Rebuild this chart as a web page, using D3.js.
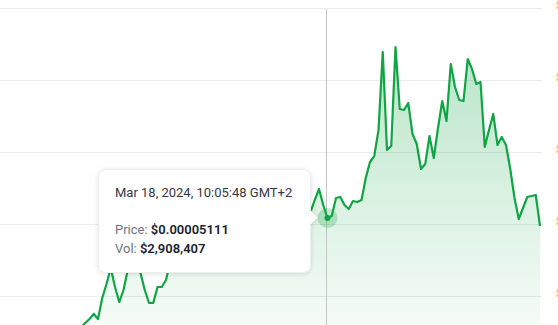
<!DOCTYPE html>
<html>
<head>
<meta charset="utf-8">
<script src="https://cdn.jsdelivr.net/npm/d3@7"></script>
<style>
  html, body { margin: 0; padding: 0; background: #fff; }
  svg { display: block; font-family: Roboto, "Noto Sans", sans-serif; }
</style>
</head>
<body>
<svg id="chart" width="558" height="325"></svg>
<script>
// price per step
const prices = [
  0.00003472, 0.00003528, 0.00003597, 0.00003653, 0.00003708, 0.00003778, 0.00003708, 0.00004000,
  0.00004194, 0.00004417, 0.00004153, 0.00003944, 0.00004111, 0.00004389, 0.00004472, 0.00004417,
  0.00004347, 0.00004111, 0.00003931, 0.00003931, 0.00004153, 0.00004153, 0.00004250, 0.00004500,
  0.00004667, 0.00004569, 0.00004750, 0.00004639, 0.00004833, 0.00004722, 0.00004917, 0.00004806,
  0.00004972, 0.00004889, 0.00005028, 0.00004944, 0.00005111, 0.00005000, 0.00005167, 0.00005083,
  0.00005250, 0.00005139, 0.00005278, 0.00005194, 0.00005361, 0.00005250, 0.00005389, 0.00005306,
  0.00005444, 0.00005333, 0.00005472, 0.00005361, 0.00005500, 0.00005389, 0.00005444, 0.00005333,
  0.00005194, 0.00005361, 0.00005514, 0.00005292, 0.00005111, 0.00005139, 0.00005389, 0.00005403,
  0.00005292, 0.00005236, 0.00005347, 0.00005333, 0.00005361, 0.00005667, 0.00005889, 0.00005972,
  0.00006333, 0.00007417, 0.00006056, 0.00006111, 0.00007486, 0.00006625, 0.00006611, 0.00006708,
  0.00006278, 0.00006139, 0.00005792, 0.00005861, 0.00006250, 0.00005944, 0.00006361, 0.00006736,
  0.00006458, 0.00007250, 0.00006931, 0.00006750, 0.00006736, 0.00007319, 0.00007181, 0.00006972,
  0.00007000, 0.00006097, 0.00006333, 0.00006556, 0.00006125, 0.00006236, 0.00006125, 0.00005792,
  0.00005389, 0.00005097, 0.00005250, 0.00005403, 0.00005417, 0.00005431, 0.00005000
];

const yTicks = [0.00004, 0.00005, 0.00006, 0.00007, 0.00008];
const yTickLabels = ['$0.00004', '$0.00005', '$0.00006', '$0.00007', '$0.00008'];

const hoverIndex = 60;
const hoverDate = 'Mar 18, 2024, 10:05:48 GMT+2';
const hoverPrice = '$0.00005111';
const hoverVol = '$2,908,407';

const green = '#10a544';

function drawChart(svg) {
  const x = d3.scaleLinear().domain([0, prices.length - 1]).range([72.5, 540]);
  const y = d3.scaleLinear().domain([0.00004, 0.00008]).range([298, 10]);

  const defs = svg.append('defs');
  const grad = defs.append('linearGradient')
    .attr('id', 'fill')
    .attr('gradientUnits', 'userSpaceOnUse')
    .attr('x1', 0).attr('x2', 0).attr('y1', 40).attr('y2', 325);
  grad.append('stop').attr('offset', 0).attr('stop-color', green).attr('stop-opacity', 0.3);
  grad.append('stop').attr('offset', 1).attr('stop-color', green).attr('stop-opacity', 0.04);

  const shadow = defs.append('filter').attr('id', 'shadow')
    .attr('x', -0.2).attr('y', -0.2).attr('width', 1.4).attr('height', 1.4);
  shadow.append('feDropShadow')
    .attr('dx', 0).attr('dy', 1).attr('stdDeviation', 2.5)
    .attr('flood-color', '#000').attr('flood-opacity', 0.12);

  // grid sits a couple of px above the tick value
  const gy = d => Math.round(y(d)) - 1.5;
  svg.append('g').selectAll('line').data(yTicks).join('line')
    .attr('x1', 0).attr('x2', 542)
    .attr('y1', gy).attr('y2', gy)
    .attr('stroke', '#ebebeb');

  // axis labels on the right, mostly cut off as in the source
  svg.append('g').selectAll('text').data(yTicks).join('text')
    .attr('x', 556).attr('y', d => gy(d))
    .attr('font-size', 11)
    .attr('fill', '#f0a53a')
    .text((d, i) => yTickLabels[i]);

  const area = d3.area()
    .x((d, i) => x(i))
    .y0(340)
    .y1(d => y(d));
  svg.append('path').datum(prices)
    .attr('d', area)
    .attr('fill', 'url(#fill)');

  // crosshair
  const hx = Math.round(x(hoverIndex)) - 0.5;
  svg.append('line')
    .attr('x1', hx).attr('x2', hx).attr('y1', 9).attr('y2', 325)
    .attr('stroke', '#c4c4c4');

  const line = d3.line()
    .x((d, i) => x(i))
    .y(d => y(d));
  svg.append('path').datum(prices)
    .attr('d', line)
    .attr('fill', 'none')
    .attr('stroke', green)
    .attr('stroke-width', 2.2)
    .attr('stroke-linejoin', 'round');

  // hover marker
  const mx = x(hoverIndex), my = y(prices[hoverIndex]);
  svg.append('circle').attr('cx', mx).attr('cy', my).attr('r', 10)
    .attr('fill', green).attr('fill-opacity', 0.25);
  svg.append('circle').attr('cx', mx).attr('cy', my).attr('r', 3)
    .attr('fill', green);

  drawTooltip(svg);
}

function drawTooltip(svg) {
  const tip = svg.append('g').attr('transform', 'translate(98.5,169.5)');
  tip.append('path')
    .attr('d', 'M8,0 H204 Q212,0 212,8 V41 L219,48 L212,55 V95 Q212,103 204,103 H8 Q0,103 0,95 V8 Q0,0 8,0 Z')
    .attr('fill', '#fff')
    .attr('stroke', '#ededed')
    .attr('filter', 'url(#shadow)');

  tip.append('text')
    .attr('x', 16.5).attr('y', 27)
    .attr('font-size', 13).attr('fill', '#333a47')
    .text(hoverDate);

  const rows = [['Price: ', hoverPrice], ['Vol: ', hoverVol]];
  rows.forEach(([k, v], i) => {
    const t = tip.append('text')
      .attr('x', 16.5).attr('y', 64 + i * 19.5)
      .attr('font-size', 13);
    t.append('tspan').attr('fill', '#6e7583').text(k);
    t.append('tspan').attr('fill', '#1c2130').attr('font-weight', 600).text(v);
  });
}

drawChart(d3.select('#chart'));
</script>
</body>
</html>
